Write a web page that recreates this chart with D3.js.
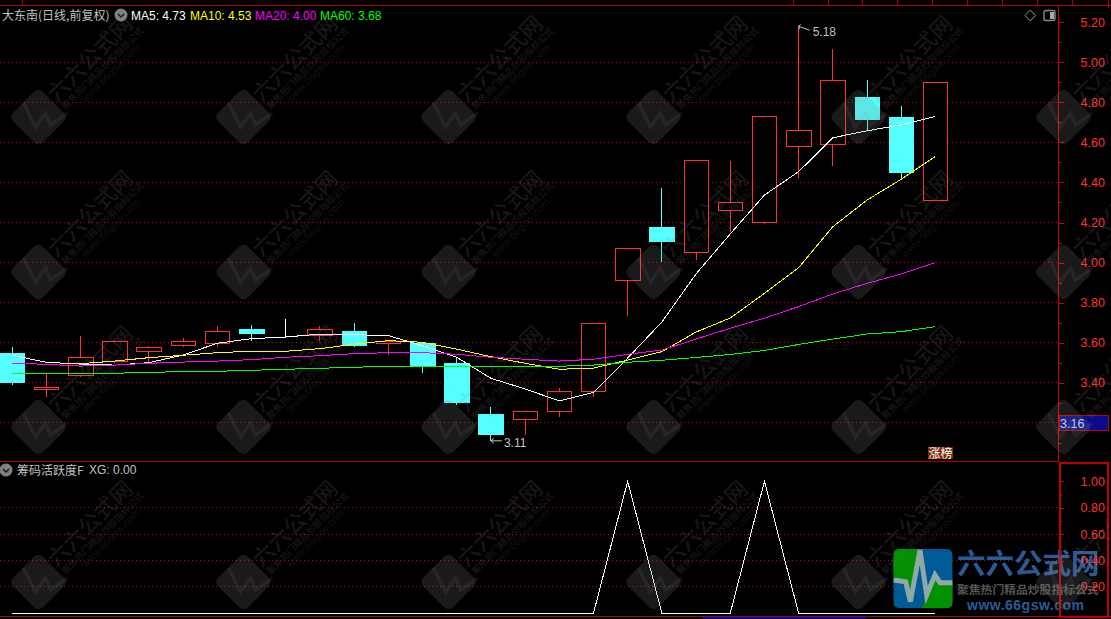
<!DOCTYPE html>
<html>
<head>
<meta charset="utf-8">
<script src="https://cdn.jsdelivr.net/npm/d3@7"></script>
<style>
  html, body { margin: 0; padding: 0; background: #000; overflow: hidden; }
  text { font-family: "Liberation Sans", Arial, sans-serif; }
  .cjk { font-family: "Noto Sans CJK SC", sans-serif; }
</style>
</head>
<body>
<svg id="chart" width="1111" height="619"></svg>
<script>
const open_ = [3.547,3.365,3.435,3.505,3.555,3.587,3.597,3.668,3.637,3.637,3.658,3.595,3.598,3.497,3.239,3.217,3.255,3.355,3.909,4.173,4.049,4.259,4.199,4.578,4.590,4.822,4.722,4.309];
const close_ = [3.400,3.377,3.527,3.607,3.577,3.607,3.657,3.648,3.637,3.667,3.588,3.607,3.483,3.300,3.139,3.257,3.357,3.697,4.071,4.103,4.511,4.301,4.730,4.660,4.910,4.712,4.452,4.900];
const high = [3.578,3.447,3.633,3.613,3.583,3.623,3.683,3.688,3.718,3.683,3.698,3.608,3.603,3.530,3.279,3.257,3.374,3.697,4.071,4.372,4.511,4.507,4.730,5.180,5.065,4.912,4.782,4.900];
const low = [3.390,3.330,3.428,3.498,3.498,3.580,3.580,3.610,3.628,3.610,3.580,3.538,3.450,3.289,3.110,3.139,3.229,3.329,3.735,4.003,4.013,4.153,4.193,4.424,4.484,4.658,4.412,4.309];

const ma5 = [3.537,3.502,3.493,3.488,3.500,3.538,3.597,3.620,3.628,3.643,3.640,3.635,3.585,3.527,3.422,3.369,3.309,3.352,3.523,3.703,3.943,4.143,4.337,4.454,4.623,4.658,4.687,4.730];
const ma10 = [null,null,3.495,3.508,3.525,3.537,3.550,3.557,3.557,3.570,3.592,3.610,3.602,3.568,3.530,3.497,3.467,3.473,3.513,3.555,3.653,3.723,3.846,3.974,4.179,4.312,4.416,4.530];
const ma20 = [3.497,3.492,3.483,3.488,3.497,3.503,3.508,3.515,3.527,3.535,3.545,3.550,3.550,3.542,3.527,3.517,3.508,3.517,3.542,3.563,3.618,3.672,3.722,3.780,3.843,3.896,3.943,4.000];
const ma60 = [3.447,3.447,3.447,3.447,3.452,3.455,3.457,3.462,3.467,3.472,3.477,3.482,3.482,3.482,3.482,3.482,3.482,3.488,3.502,3.512,3.526,3.541,3.561,3.591,3.618,3.643,3.655,3.680];
const xg = [0,0,0,0,0,0,0,0,0,0,0,0,0,0,0,0,0,0,1,0,0,0,1,0,0,0,0,0];

const priceTicks = [5.2,5.0,4.8,4.6,4.4,4.2,4.0,3.8,3.6,3.4];
const priceGrid = [5.0,4.8,4.6,4.4,4.2,4.0,3.8,3.6,3.4,3.2];
const priceMinor = [5.1,4.9,4.7,4.5,4.3,4.1,3.9,3.7,3.5,3.3,3.2,3.1];
const xgTicks = [1.0,0.8,0.6,0.4,0.2];
const xgGrid = [0.8,0.6,0.4,0.2];
const xgMinor = [0.9,0.7,0.5,0.3,0.1];
const topCells = [793,828,862,897,932,967,1002,1037,1072];

const RED = "#ff3232", CYAN = "#54ffff", GRID = "#c00000", FRAME = "#b00000";
const axisX = 1058;

const svg = d3.select("#chart");
svg.append("rect").attr("width", 1111).attr("height", 619).attr("fill", "#000");

const x = d3.scaleLinear().domain([0, 27]).range([12.2, 935.4]);
const y = d3.scaleLinear().domain([5, 3.2]).range([62.3, 422.75]);
const y2 = d3.scaleLinear().domain([0, 1]).range([613.3, 481.3]);

// grid
const crisp = svg.append("g").attr("shape-rendering", "crispEdges");
const gridLines = (vals, sc) => crisp.append("g").selectAll("line").data(vals).enter().append("line")
  .attr("x1", 0).attr("x2", axisX)
  .attr("y1", d => sc(d)).attr("y2", d => sc(d))
  .attr("stroke", GRID).attr("stroke-dasharray", "1 3");
gridLines(priceGrid, y);
gridLines(xgGrid, y2);

// candles
const candles = crisp.append("g").selectAll("g").data(d3.range(open_.length)).enter().append("g")
  .attr("stroke", i => close_[i] > open_[i] ? RED : close_[i] < open_[i] ? CYAN : "#fff");
candles.append("line")
  .attr("x1", x).attr("x2", x)
  .attr("y1", i => y(high[i])).attr("y2", i => y(Math.max(open_[i], close_[i])));
candles.append("line")
  .attr("x1", x).attr("x2", x)
  .attr("y1", i => y(Math.min(open_[i], close_[i]))).attr("y2", i => y(low[i]));
candles.append("rect")
  .attr("x", i => x(i) - 12)
  .attr("width", 24.5)
  .attr("y", i => y(Math.max(open_[i], close_[i])))
  .attr("height", i => Math.abs(y(open_[i]) - y(close_[i])))
  .attr("fill", i => close_[i] < open_[i] ? CYAN : "#000");

// moving averages
const maLine = d3.line().defined(d => d !== null).x((d, i) => x(i)).y(d => y(d));
[[ma5, "#ffffff"], [ma10, "#ffff00"], [ma20, "#ff00ff"], [ma60, "#00ff00"]].forEach(([vals, col]) => {
  crisp.append("path").attr("d", maLine(vals)).attr("fill", "none").attr("stroke", col);
});
// ma10 comes in half a bar before its first value
crisp.append("line").attr("x1", x(1.5)).attr("x2", x(2)).attr("y1", y(ma10[2])).attr("y2", y(ma10[2])).attr("stroke", "#ffff00");

// xg panel
crisp.append("path")
  .attr("d", d3.line().x((d, i) => x(i)).y(d => y2(d))(xg))
  .attr("fill", "none").attr("stroke", "#fff");

// high / low labels
const lowIdx = d3.range(low.length).find(i => low[i] === d3.min(low));
const highIdx = d3.range(high.length).find(i => high[i] === d3.max(high));
const markGroup = svg.append("g");
markGroup.append("path")
  .attr("d", `M${x(lowIdx) + 11},${y(low[lowIdx])}H${x(lowIdx)}l3,-2.5M${x(lowIdx)},${y(low[lowIdx])}l3,2.5`)
  .attr("fill", "none").attr("stroke", "#c0c0c0");
markGroup.append("text").attr("x", x(lowIdx) + 13).attr("y", y(low[lowIdx]) + 6)
  .attr("fill", "#c0c0c0").attr("font-size", 12).text(low[lowIdx].toFixed(2));
markGroup.append("path")
  .attr("d", `M${x(highIdx) + 11},${y(high[highIdx]) + 4}L${x(highIdx)},${y(high[highIdx])}l2,-2M${x(highIdx)},${y(high[highIdx])}l1,3`)
  .attr("fill", "none").attr("stroke", "#c0c0c0");
markGroup.append("text").attr("x", x(highIdx) + 14).attr("y", y(high[highIdx]) + 10)
  .attr("fill", "#c0c0c0").attr("font-size", 12).text(high[highIdx].toFixed(2));

// logo, sits under the axis labels
const logo = svg.append("g");
const logoArt = logo.append("g").attr("transform", "translate(885,540) scale(0.3333)");
logoArt.append("clipPath").attr("id", "logo-clip")
  .append("rect").attr("x", 25).attr("y", 27).attr("width", 178).attr("height", 178).attr("rx", 18);
const logoInner = logoArt.append("g").attr("clip-path", "url(#logo-clip)");
logoInner.append("rect").attr("x", 25).attr("y", 27).attr("width", 178).attr("height", 178).attr("fill", "#005a96");
logoInner.append("path").attr("d", "M25,27H102L76,150L62,118L25,112Z").attr("fill", "#009000");
logoInner.append("path").attr("d", "M112,205L126,160L150,110L165,128H203V205Z").attr("fill", "#009000");
logoInner.append("path").attr("d", "M25,120L62,125L76,185L105,30L125,165L150,105L165,128L203,128")
  .attr("fill", "none").attr("stroke", "#8fa8a8").attr("stroke-width", 15);
logo.append("text").attr("class", "cjk").attr("x", 957).attr("y", 574)
  .attr("font-size", 28.5).attr("font-weight", 700).attr("fill", "#2c5a96").text("六六公式网");
logo.append("text").attr("class", "cjk").attr("x", 957).attr("y", 594)
  .attr("font-size", 11.8).attr("font-weight", 700).attr("fill", "#555").text("聚焦热门精品炒股指标公式");
logo.append("text").attr("x", 967).attr("y", 610)
  .attr("font-size", 14).attr("font-weight", 700).attr("fill", "#2c5a96")
  .attr("textLength", 117).text("www.66gsw.com");

// frame
const frame = svg.append("g").attr("shape-rendering", "crispEdges").attr("stroke", FRAME).attr("fill", "none");
frame.append("line").attr("x1", 0).attr("x2", 1111).attr("y1", 5.5).attr("y2", 5.5);
frame.append("line").attr("x1", 22.5).attr("x2", 22.5).attr("y1", 0).attr("y2", 5);
frame.selectAll(".cell").data(topCells).enter().append("line").attr("class", "cell")
  .attr("x1", d => d + 0.5).attr("x2", d => d + 0.5).attr("y1", 0).attr("y2", 5);
frame.append("line").attr("x1", 1108.5).attr("x2", 1108.5).attr("y1", 0).attr("y2", 8);
frame.append("line").attr("x1", 0).attr("x2", 1059).attr("y1", 461.5).attr("y2", 461.5);
frame.append("line").attr("x1", 0).attr("x2", 1111).attr("y1", 616.5).attr("y2", 616.5);
frame.append("line").attr("x1", axisX + 0.5).attr("x2", axisX + 0.5).attr("y1", 5).attr("y2", 462).attr("stroke", "#d00000");
frame.append("rect").attr("x", 1059.5).attr("y", 462.5).attr("width", 48.5).attr("height", 154).attr("stroke", "#c00000").attr("stroke-width", 2);
svg.append("rect").attr("x", 703).attr("y", 617).attr("width", 163).attr("height", 2).attr("fill", "#0a0a8c");

// axes
const drawAxis = (scale, major, minor, left) => {
  const g = svg.append("g").attr("transform", `translate(${left},0)`).attr("shape-rendering", "crispEdges");
  const a = g.append("g").call(d3.axisRight(scale).tickValues(major).tickSize(5).tickPadding(17).tickFormat(d3.format(".2f")));
  a.select(".domain").remove();
  a.selectAll("line").attr("stroke", "#d00000");
  a.selectAll("text").attr("fill", RED).attr("font-size", 12.5)
    .attr("font-family", '"Liberation Sans", Arial, sans-serif');
  const b = g.append("g").call(d3.axisRight(scale).tickValues(minor).tickSize(3).tickFormat(""));
  b.select(".domain").remove();
  b.selectAll("line").attr("stroke", "#d00000");
};
drawAxis(y, priceTicks, priceMinor, axisX + 0.5);
drawAxis(y2, xgTicks, xgMinor, axisX + 0.5);

// current cross-hair price box and limit tag
svg.append("rect").attr("x", 1059.5).attr("y", 415.5).attr("width", 49).attr("height", 15)
  .attr("fill", "#0a0a8c").attr("stroke", "#c00000").attr("shape-rendering", "crispEdges");
svg.append("text").attr("x", 1060).attr("y", 427.5).attr("fill", "#c8e0ff").attr("font-size", 12.5).text("3.16");
svg.append("rect").attr("x", 928).attr("y", 447).attr("width", 25).attr("height", 12).attr("fill", "#7a2a08");
svg.append("text").attr("class", "cjk").attr("x", 928.5).attr("y", 458).attr("font-size", 12).attr("fill", "#fff").text("涨榜");

// header texts
const chevron = (cx, cy) => {
  const g = svg.append("g").attr("transform", `translate(${cx},${cy})`);
  g.append("circle").attr("r", 6.5).attr("fill", "#808080");
  g.append("path").attr("d", "M-3,-1L0,2L3,-1").attr("fill", "none").attr("stroke", "#111").attr("stroke-width", 1.4);
};
svg.append("text").attr("class", "cjk").attr("x", 2).attr("y", 20).attr("font-size", 12).attr("fill", "#c0c0c0").text("大东南(日线,前复权)");
chevron(121, 15);
const maLabels = [["MA5", ma5, "#ffffff", 131], ["MA10", ma10, "#ffff00", 190], ["MA20", ma20, "#ff00ff", 255], ["MA60", ma60, "#00ff00", 320]];
maLabels.forEach(([name, vals, col, left]) => {
  svg.append("text").attr("x", left).attr("y", 20).attr("font-size", 12).attr("fill", col)
    .text(`${name}: ${vals[vals.length - 1].toFixed(2)}`);
});
svg.append("text").attr("class", "cjk").attr("x", 17).attr("y", 475).attr("font-size", 12).attr("fill", "#c0c0c0").text("筹码活跃度F");
svg.append("text").attr("x", 89).attr("y", 474).attr("font-size", 12).attr("fill", "#c0c0c0").text(`XG: ${xg[xg.length - 1].toFixed(2)}`);
chevron(6, 470);

// right top icons
svg.append("path").attr("d", "M1030.3,10L1035.5,15.5L1030.3,21L1025,15.5Z").attr("fill", "none").attr("stroke", "#999");
svg.append("rect").attr("x", 1044).attr("y", 10.5).attr("width", 11).attr("height", 10).attr("rx", 2).attr("fill", "none").attr("stroke", "#888").attr("stroke-width", 1.4);
svg.append("rect").attr("x", 1050).attr("y", 12).attr("width", 4).attr("height", 7).attr("fill", "#aaa");

// watermark overlay
const wmCols = d3.range(6).map(i => 38.5 + 205 * i);
const wmRows = d3.range(4).map(i => 117 + 155 * i);
const wm = svg.append("g").attr("pointer-events", "none");
wmRows.forEach(cy => wmCols.forEach(cx => {
  const g = wm.append("g").attr("transform", `translate(${cx},${cy})`);
  g.append("rect").attr("x", -21).attr("y", -21).attr("width", 42).attr("height", 42).attr("rx", 6)
    .attr("transform", "rotate(45)").attr("fill", "#808080").attr("opacity", 0.2);
  g.append("path").attr("d", "M-15,-14L-3,10L7,-4L12,8L29,-4").attr("fill", "none")
    .attr("stroke", "#808080").attr("stroke-width", 3.5).attr("opacity", 0.12);
  g.append("text").attr("class", "cjk").attr("transform", "translate(18,-14) rotate(-45)")
    .attr("font-size", 22).attr("font-weight", 500).attr("fill", "#808080").attr("opacity", 0.17).text("六六公式网");
  g.append("text").attr("class", "cjk").attr("transform", "translate(27,-7) rotate(-45)")
    .attr("font-size", 9.3).attr("font-weight", 500).attr("fill", "#808080").attr("opacity", 0.17).text("聚焦热门精品炒股指标公式");
  g.append("text").attr("transform", "translate(47,-14) rotate(-45)")
    .attr("font-size", 10.5).attr("fill", "#808080").attr("opacity", 0.12).text("www.66gsw.com");
}));
</script>
</body>
</html>
